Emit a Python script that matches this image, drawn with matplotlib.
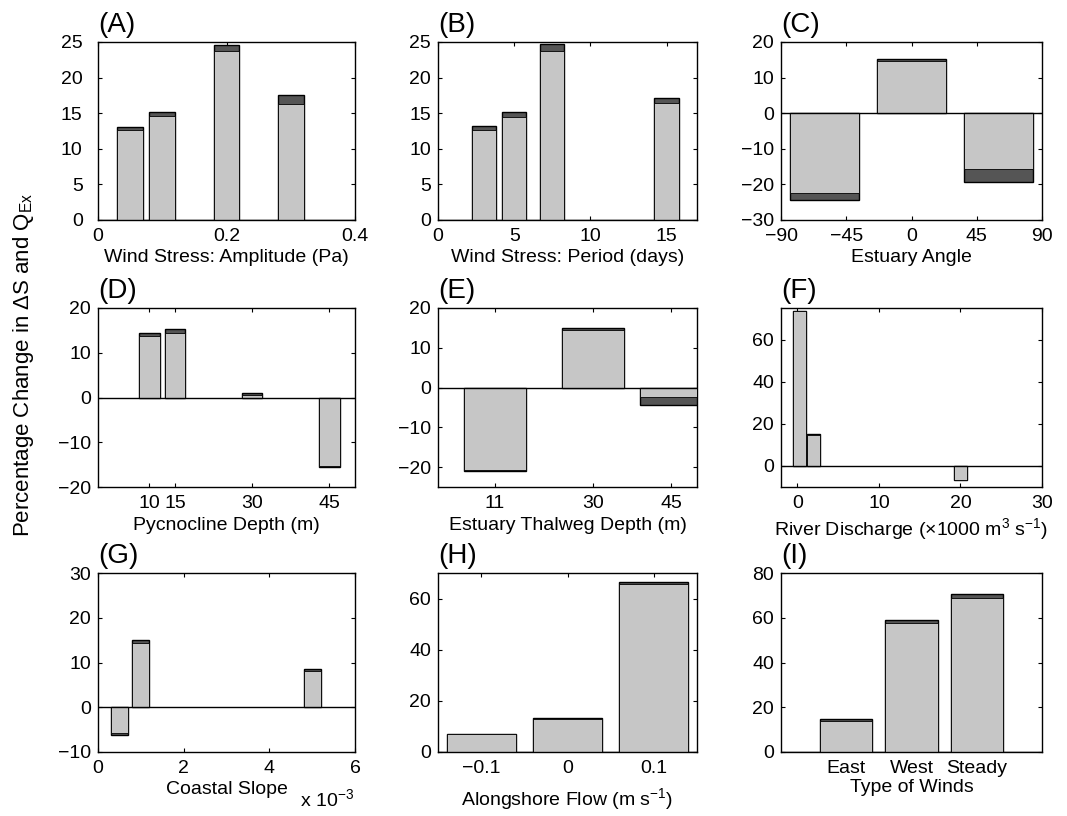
import matplotlib
matplotlib.use("Agg")
import matplotlib.pyplot as plt
from matplotlib.ticker import FuncFormatter

plt.rcParams['font.family'] = ['Liberation Sans', 'DejaVu Sans']
plt.rcParams['mathtext.fontset'] = 'custom'
plt.rcParams['mathtext.rm'] = 'Liberation Sans'
plt.rcParams['mathtext.it'] = 'Liberation Sans'

LIGHT = '#c6c6c6'
DARK = '#555555'
FS = 14

# (A) wind stress amplitude (Pa)
amp_x = [0.05, 0.1, 0.2, 0.3]
amp_ds = [12.6, 14.6, 23.7, 16.3]
amp_qex = [13.1, 15.1, 24.6, 17.6]

# (B) wind stress period (days)
per_x = [3, 5, 7.5, 15]
per_ds = [12.7, 14.5, 23.7, 16.4]
per_qex = [13.2, 15.2, 24.7, 17.2]

# (C) estuary angle (deg)
ang_x = [-60, 0, 60]
ang_ds = [-22.5, 14.7, -15.8]
ang_qex = [-24.4, 15.3, -19.3]

# (D) pycnocline depth (m)
pyc_x = [10, 15, 30, 45]
pyc_ds = [13.7, 14.5, 0.6, -15.3]
pyc_qex = [14.4, 15.2, 1.0, -15.6]

# (E) estuary thalweg depth (m)
thw_x = [11, 30, 45]
thw_ds = [-20.7, 14.5, -2.4]
thw_qex = [-21.0, 15.0, -4.5]

# (F) river discharge (x1000 m3/s)
riv_x = [0.3, 2, 20]
riv_ds = [73.5, 14.8, -6.5]
riv_qex = [73.8, 15.2, -6.7]

# (G) coastal slope
slope_x = [0.5e-3, 1e-3, 5e-3]
slope_ds = [-5.8, 14.4, 8.1]
slope_qex = [-6.1, 15.1, 8.6]

# (H) alongshore flow (m/s)
flow_x = [-0.1, 0, 0.1]
flow_ds = [7.0, 13.0, 65.8]
flow_qex = [7.2, 13.2, 66.5]

# (I) type of winds
wind_names = ['East', 'West', 'Steady']
wind_x = [1, 2, 3]
wind_ds = [13.8, 57.7, 68.8]
wind_qex = [14.6, 59.2, 70.6]

W, H = 1067, 816
fig = plt.figure(figsize=(W / 100, H / 100), dpi=100)

cols = [(98, 355), (438, 697), (781, 1042)]
rows = [(42, 220), (308, 487), (573, 752)]


def make_axes(r, c):
    x0, x1 = cols[c]
    y0, y1 = rows[r]
    return fig.add_axes([x0 / W, 1 - y1 / H, (x1 - x0) / W, (y1 - y0) / H])


def bar_panel(ax, x, ds, qex, width, tag, xlim, ylim, xticks, yticks, xlabel):
    ax.bar(x, qex, width=width, color=DARK, edgecolor='k', linewidth=1.0, zorder=2)
    ax.bar(x, ds, width=width, color=LIGHT, edgecolor='k', linewidth=0.6, zorder=3)
    ax.axhline(0, color='k', linewidth=1.0, zorder=4)
    ax.set_xlim(*xlim)
    ax.set_ylim(*ylim)
    ax.set_xticks(xticks)
    ax.set_yticks(yticks)
    ax.tick_params(direction='in', top=True, right=True, length=3, width=0.8,
                   labelsize=FS)
    ax.tick_params(axis='x', pad=6)
    ax.tick_params(axis='y', pad=5)
    for s in ax.spines.values():
        s.set_linewidth(1.0)
    if xlabel:
        ax.set_xlabel(xlabel, fontsize=FS, labelpad=3)
    ax.text(0.0, 1.02, tag, transform=ax.transAxes, ha='left', va='bottom',
            fontsize=20)


ax = make_axes(0, 0)
bar_panel(ax, amp_x, amp_ds, amp_qex, 0.04, '(A)', (0, 0.4), (0, 25),
          [0, 0.2, 0.4], [0, 5, 10, 15, 20, 25], 'Wind Stress: Amplitude (Pa)')
ax.set_xticklabels(['0', '0.2', '0.4'])
ax.tick_params(axis='y', pad=11)

ax = make_axes(0, 1)
bar_panel(ax, per_x, per_ds, per_qex, 1.6, '(B)', (0, 17), (0, 25),
          [0, 5, 10, 15], [0, 5, 10, 15, 20, 25], 'Wind Stress: Period (days)')

ax = make_axes(0, 2)
bar_panel(ax, ang_x, ang_ds, ang_qex, 48, '(C)', (-90, 90), (-30, 20),
          [-90, -45, 0, 45, 90], [-30, -20, -10, 0, 10, 20], 'Estuary Angle')

ax = make_axes(1, 0)
bar_panel(ax, pyc_x, pyc_ds, pyc_qex, 4, '(D)', (0, 50), (-20, 20),
          [10, 15, 30, 45], [-20, -10, 0, 10, 20], 'Pycnocline Depth (m)')

ax = make_axes(1, 1)
bar_panel(ax, thw_x, thw_ds, thw_qex, 12, '(E)', (0, 50), (-25, 20),
          [11, 30, 45], [-20, -10, 0, 10, 20], 'Estuary Thalweg Depth (m)')

ax = make_axes(1, 2)
bar_panel(ax, riv_x, riv_ds, riv_qex, 1.6, '(F)', (-2, 30), (-10, 75),
          [0, 10, 20, 30], [0, 20, 40, 60],
          'River Discharge ($\\times$1000 m$^{3}$ s$^{-1}$)')

ax = make_axes(2, 0)
bar_panel(ax, slope_x, slope_ds, slope_qex, 0.4e-3, '(G)', (0, 6e-3), (-10, 30),
          [0, 2e-3, 4e-3, 6e-3], [-10, 0, 10, 20, 30], 'Coastal Slope')
ax.xaxis.set_major_formatter(FuncFormatter(lambda v, p: f'{v * 1e3:g}'))
ax.text(0.785, -0.2, 'x 10$^{-3}$', transform=ax.transAxes, ha='left',
        va='top', fontsize=FS)

ax = make_axes(2, 1)
bar_panel(ax, flow_x, flow_ds, flow_qex, 0.08, '(H)', (-0.15, 0.15), (0, 70),
          [-0.1, 0, 0.1], [0, 20, 40, 60], 'Alongshore Flow (m s$^{-1}$)')
ax.set_xticklabels(['\u22120.1', '0', '0.1'])
ax.xaxis.labelpad = 6

ax = make_axes(2, 2)
bar_panel(ax, wind_x, wind_ds, wind_qex, 0.8, '(I)', (0, 4), (0, 80),
          wind_x, [0, 20, 40, 60, 80], 'Type of Winds')
ax.set_xticklabels(wind_names)
ax.tick_params(axis='x', length=0)
ax.xaxis.labelpad = 1

fig.text(24 / W, 1 - 365 / H, 'Percentage Change in \u0394S and Q$_{\\mathrm{Ex}}$',
         rotation=90, ha='center', va='center', fontsize=16)

fig.savefig('out.png', dpi=100)
